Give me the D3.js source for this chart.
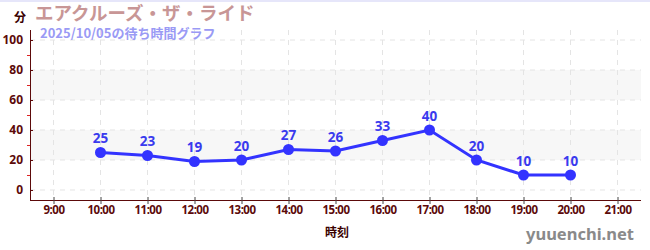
<!DOCTYPE html>
<html>
<head>
<meta charset="utf-8">
<script src="https://cdn.jsdelivr.net/npm/d3@7"></script>
<style>
  body { margin: 0; background: #fff; }
  svg { display: block; font-family: "Noto Sans CJK JP", "Noto Sans", sans-serif; }
</style>
</head>
<body>
<div id="chart"></div>
<script>
'use strict'
// wait times by hour
var hours = [10, 11, 12, 13, 14, 15, 16, 17, 18, 19, 20];
var waits = [25, 23, 19, 20, 27, 26, 33, 40, 20, 10, 10];
var xTicks = [9, 10, 11, 12, 13, 14, 15, 16, 17, 18, 19, 20, 21];
var yTicks = [0, 20, 40, 60, 80, 100];
var yMinor = [10, 30, 50, 70, 90];
var bands = [[20, 40], [60, 80]];

(function(){
var width = 650, height = 250,
    pLeft = 30, pRight = 641, pTop = 30, pBottom = 200,
    axisColor = "#5c0a0a", lineColor = "#3333ff";

var svg = d3.select("#chart").append("svg")
    .attr("width", width)
    .attr("height", height);

var x = d3.scaleLinear().domain([8.5, 21.5]).range([pLeft, pRight]);
var y = d3.scaleLinear().domain([-6.67, 106.67]).range([pBottom, pTop]);

// faint top border
svg.append("rect")
    .attr("x", 0).attr("y", 0)
    .attr("width", width).attr("height", 2)
    .attr("fill", "#e6e6fa");

// grey bands
svg.append("g").selectAll("rect")
    .data(bands)
    .enter()
    .append("rect")
    .attr("x", pLeft)
    .attr("width", pRight - pLeft)
    .attr("y", function(d){ return y(d[1]); })
    .attr("height", function(d){ return y(d[0]) - y(d[1]); })
    .attr("fill", "#f7f7f7");

// grid
var grid = svg.append("g")
    .attr("stroke", "#e4e4e4")
    .attr("stroke-dasharray", "5,5");
grid.selectAll(".gy").data(yTicks).enter().append("line")
    .attr("x1", pLeft).attr("x2", pRight)
    .attr("y1", function(d){ return y(d); })
    .attr("y2", function(d){ return y(d); });
grid.selectAll(".gx").data(xTicks).enter().append("line")
    .attr("y1", pTop).attr("y2", pBottom)
    .attr("x1", function(d){ return x(d); })
    .attr("x2", function(d){ return x(d); });

// y axis
var yAxis = svg.append("g")
    .attr("transform", "translate(" + pLeft + ",0)")
    .call(d3.axisLeft(y).tickValues(yTicks).tickSize(4).tickPadding(3));
yAxis.selectAll("text").attr("font-size", 12).attr("font-weight", "bold").attr("fill", axisColor)
    .attr("font-family", "Noto Sans");
yAxis.selectAll(".tick line").attr("x2", 3).attr("stroke", axisColor);
yAxis.select(".domain").attr("d", "M0.5," + pTop + "V" + pBottom).attr("stroke", axisColor);

svg.append("g").selectAll("line")
    .data(yMinor)
    .enter()
    .append("line")
    .attr("x1", pLeft - 3).attr("x2", pLeft)
    .attr("y1", function(d){ return y(d) + 0.5; })
    .attr("y2", function(d){ return y(d) + 0.5; })
    .attr("stroke", "#dd2222");

// x axis
var xAxis = svg.append("g")
    .attr("transform", "translate(0," + pBottom + ")")
    .call(d3.axisBottom(x).tickValues(xTicks).tickSize(4).tickPadding(2)
        .tickFormat(function(d){ return d + ":00"; }));
xAxis.selectAll("text").attr("font-size", 11.5).attr("font-weight", "bold").attr("fill", axisColor)
    .attr("font-family", "Noto Sans").attr("letter-spacing", "-0.5");
xAxis.selectAll(".tick line").attr("y1", -3).attr("stroke", "#444");
xAxis.select(".domain").attr("d", "M" + pLeft + ",0.5H" + pRight).attr("stroke", axisColor);

// line + points
var pts = hours.map(function(h, i){ return [h, waits[i]]; });
svg.append("path")
    .datum(pts)
    .attr("fill", "none")
    .attr("stroke", lineColor)
    .attr("stroke-width", 3)
    .attr("d", d3.line()
        .x(function(d){ return x(d[0]); })
        .y(function(d){ return y(d[1]); }));

svg.append("g").selectAll("circle")
    .data(pts)
    .enter()
    .append("circle")
    .attr("cx", function(d){ return x(d[0]); })
    .attr("cy", function(d){ return y(d[1]); })
    .attr("r", 5.5)
    .attr("fill", lineColor);

svg.append("g").selectAll("text")
    .data(pts)
    .enter()
    .append("text")
    .attr("x", function(d){ return x(d[0]); })
    .attr("y", function(d){ return y(d[1]) - 9; })
    .attr("text-anchor", "middle")
    .attr("font-family", "Noto Sans")
    .attr("font-size", 13.5)
    .attr("font-weight", "bold")
    .attr("fill", "#3a3aee")
    .text(function(d){ return d[1]; });

// titles
svg.append("text")
    .attr("x", 14).attr("y", 22)
    .attr("font-size", 12).attr("font-weight", "bold")
    .attr("fill", "#3a0000")
    .text("分");
svg.append("text")
    .attr("x", 35).attr("y", 19.5)
    .attr("font-size", 18.5).attr("font-weight", "bold")
    .attr("fill", "#c89696")
    .text("エアクルーズ・ザ・ライド");
svg.append("text")
    .attr("x", 40).attr("y", 37.5)
    .attr("font-size", 13).attr("font-weight", "bold")
    .attr("fill", "#9a9af5")
    .text("2025/10/05の待ち時間グラフ");

svg.append("text")
    .attr("x", 337).attr("y", 237)
    .attr("text-anchor", "middle")
    .attr("font-size", 12).attr("font-weight", "bold")
    .attr("fill", "#3a0000")
    .text("時刻");

svg.append("text")
    .attr("x", 634).attr("y", 240)
    .attr("text-anchor", "end")
    .attr("font-family", "Noto Sans")
    .attr("font-size", 16.5)
    .attr("font-weight", "bold")
    .attr("fill", "#8a8a8a")
    .text("yuuenchi.net");
}());
</script>
</body>
</html>
